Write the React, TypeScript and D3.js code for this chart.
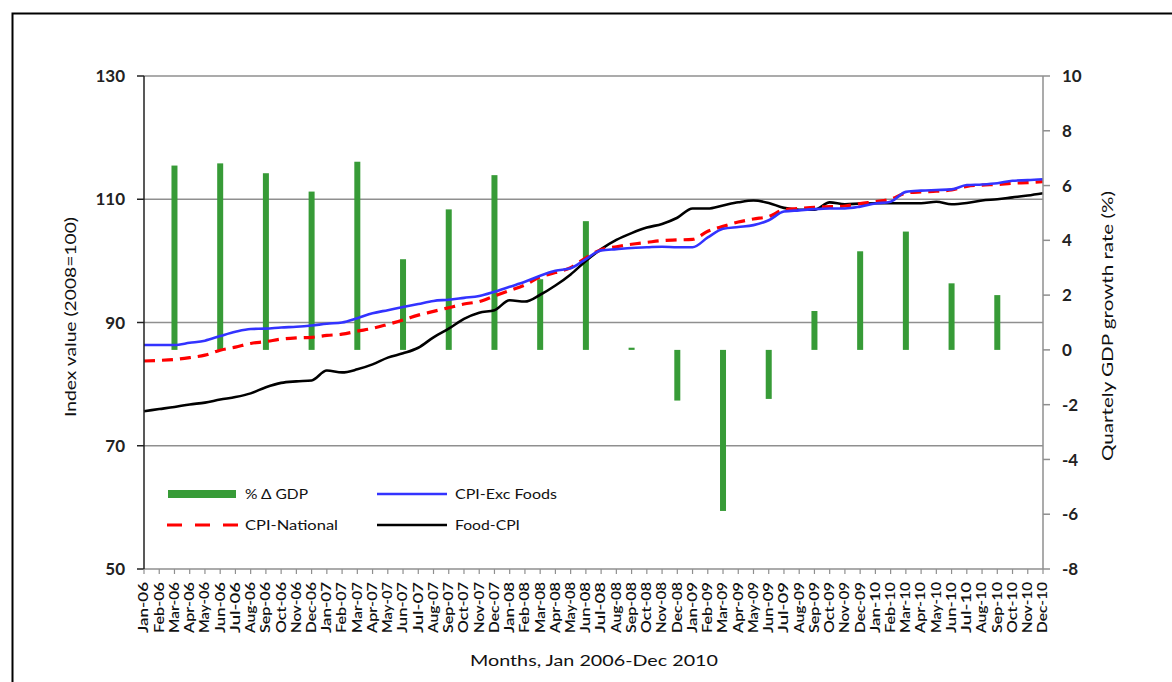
import React from "react";
import * as d3 from "d3";

const monthNames = ["Jan", "Feb", "Mar", "Apr", "May", "Jun", "Jul", "Aug", "Sep", "Oct", "Nov", "Dec"];
const years = ["06", "07", "08", "09", "10"];
const months: string[] = years.flatMap((y) => monthNames.map((m) => `${m}-${y}`));

const cpiExcFoods = [
  86.35, 86.35, 86.35, 86.7, 87.05, 87.8, 88.5, 88.95, 89.0, 89.2, 89.3, 89.5,
  89.8, 90.0, 90.7, 91.5, 92.0, 92.5, 93.0, 93.5, 93.7, 94.0, 94.3, 95.0,
  95.8, 96.6, 97.6, 98.4, 98.8, 100.3, 101.7, 101.9, 102.1, 102.2, 102.3, 102.2,
  102.2, 103.8, 105.2, 105.5, 105.8, 106.6, 108.0, 108.2, 108.4, 108.5, 108.5, 108.8,
  109.3, 109.6, 111.2, 111.4, 111.5, 111.6, 112.3, 112.4, 112.6, 113.0, 113.1, 113.25,
];

const cpiNational = [
  83.75, 83.85, 84.0, 84.3, 84.7, 85.5, 86.0, 86.6, 86.9, 87.3, 87.5, 87.6,
  87.9, 88.1, 88.6, 89.05, 89.7, 90.4, 91.2, 91.8, 92.4, 93.0, 93.4, 94.3,
  95.2, 96.1, 97.4, 98.1, 98.9, 100.5, 101.8, 102.3, 102.7, 103.0, 103.3, 103.4,
  103.5, 104.8, 105.6, 106.3, 106.8, 107.2, 108.3, 108.5, 108.7, 108.8, 108.9, 109.3,
  109.6, 110.0, 111.0, 111.2, 111.3, 111.5, 112.1, 112.3, 112.4, 112.6, 112.7, 112.85,
];

const foodCpi = [
  75.6, 75.95, 76.3, 76.7, 77.0, 77.5, 77.9, 78.5, 79.5, 80.2, 80.45, 80.6,
  82.2, 81.9, 82.4, 83.2, 84.3, 85.0, 85.9, 87.6, 89.0, 90.6, 91.6, 92.0,
  93.6, 93.4, 94.5, 96.0, 97.8, 100.0, 101.9, 103.4, 104.5, 105.4, 106.0, 107.0,
  108.5, 108.5, 109.0, 109.5, 109.8, 109.4, 108.6, 108.3, 108.3, 109.5, 109.2, 109.3,
  109.35, 109.35, 109.35, 109.35, 109.6, 109.2, 109.4, 109.8, 110.0, 110.3, 110.6, 110.97,
];

const gdpMonths = [
  "Mar-06", "Jun-06", "Sep-06", "Dec-06",
  "Mar-07", "Jun-07", "Sep-07", "Dec-07",
  "Mar-08", "Jun-08", "Sep-08", "Dec-08",
  "Mar-09", "Jun-09", "Sep-09", "Dec-09",
  "Mar-10", "Jun-10", "Sep-10",
];
const gdpGrowth = [
  6.73, 6.81, 6.45, 5.78,
  6.87, 3.31, 5.13, 6.38,
  2.58, 4.7, 0.08, -1.85,
  -5.88, -1.79, 1.42, 3.6,
  4.32, 2.43, 2.0,
];

const leftTicks = [50, 70, 90, 110, 130];
const rightTicks = [-8, -6, -4, -2, 0, 2, 4, 6, 8, 10];

const W = 1172;
const H = 682;
const L = 144;
const R = 1043;
const T = 76;
const B = 569;
const FONT = "Lato, 'Open Sans', sans-serif";

export default function App() {
  const x = d3.scalePoint<string>().domain(months).range([L, R]);
  const yL = d3.scaleLinear().domain([50, 130]).range([B, T]);
  const yR = d3.scaleLinear().domain([-8, 10]).range([B, T]);

  const line = (vals: number[]) =>
    d3
      .line<number>()
      .x((_, i) => x(months[i]) as number)
      .y((d) => yL(d))
      .curve(d3.curveMonotoneX)(vals) as string;

  const barW = 6;
  const gridColor = "#8f8f8f";

  return (
    <svg
      width={W}
      height={H}
      style={{ position: "absolute", left: 0, top: 0, background: "#fff" }}
      fontFamily={FONT}
    >
      <rect x={12.5} y={13.5} width={1200} height={700} fill="#fff" stroke="#000" strokeWidth={2} />

      {/* gridlines */}
      {leftTicks.map((t) => (
        <line key={`g${t}`} x1={L} x2={R} y1={yL(t)} y2={yL(t)} stroke={gridColor} strokeWidth={1.5} />
      ))}

      {/* bars */}
      {gdpMonths.map((m, i) => {
        const v = gdpGrowth[i];
        const y0 = yR(0);
        const y1 = yR(v);
        return (
          <rect
            key={m}
            x={(x(m) as number) - barW / 2}
            y={Math.min(y0, y1)}
            width={barW}
            height={Math.max(1, Math.abs(y1 - y0))}
            fill="#379b37"
          />
        );
      })}

      {/* lines */}
      <path d={line(foodCpi)} fill="none" stroke="#000" strokeWidth={2.6} />
      <path d={line(cpiNational)} fill="none" stroke="#ff0000" strokeWidth={3.2} strokeDasharray="11,7" />
      <path d={line(cpiExcFoods)} fill="none" stroke="#3333ff" strokeWidth={2.6} />

      {/* left axis */}
      <line x1={L} x2={L} y1={T} y2={B} stroke="#222" strokeWidth={1.5} />
      {leftTicks.map((t) => (
        <g key={`l${t}`}>
          <line x1={L - 7} x2={L} y1={yL(t)} y2={yL(t)} stroke="#222" strokeWidth={1.5} />
          <text x={125} y={yL(t)} dy="0.36em" textAnchor="end" fontSize={17} fontWeight="bold" fill="#222">
            {t}
          </text>
        </g>
      ))}

      {/* right axis */}
      <line x1={R} x2={R} y1={T} y2={B} stroke={gridColor} strokeWidth={1.5} />
      {rightTicks.map((t) => (
        <g key={`r${t}`}>
          <line x1={R} x2={R + 7} y1={yR(t)} y2={yR(t)} stroke={gridColor} strokeWidth={1.5} />
          <text x={1062} y={yR(t)} dy="0.36em" textAnchor="start" fontSize={17} fontWeight="bold" fill="#222">
            {t}
          </text>
        </g>
      ))}

      {/* x axis */}
      {months.map((m) => (
        <g key={m}>
          <line x1={x(m)} x2={x(m)} y1={B} y2={B + 5} stroke={gridColor} strokeWidth={1.2} />
          <text
            transform={`translate(${x(m)},${B + 13}) rotate(-90)`}
            dy="0.35em"
            textAnchor="end"
            fontSize={12.5}
            fontWeight="600"
            fill="#111"
            textLength={51}
            lengthAdjust="spacingAndGlyphs"
          >
            {m}
          </text>
        </g>
      ))}

      {/* axis titles */}
      <text
        transform={`translate(76,317) rotate(-90)`}
        textAnchor="middle"
        fontSize={15}
        fill="#111"
        textLength={200}
        lengthAdjust="spacingAndGlyphs"
      >
        Index value (2008=100)
      </text>
      <text
        transform={`translate(1113,326) rotate(-90)`}
        textAnchor="middle"
        fontSize={15}
        fill="#111"
        textLength={270}
        lengthAdjust="spacingAndGlyphs"
      >
        Quartely GDP growth rate (%)
      </text>
      <text
        x={594}
        y={666}
        textAnchor="middle"
        fontSize={16}
        fill="#111"
        textLength={248}
        lengthAdjust="spacingAndGlyphs"
      >
        Months, Jan 2006-Dec 2010
      </text>

      {/* legend */}
      <rect x={168} y={490} width={68} height={8} fill="#379b37" />
      <text x={245} y={494} dy="0.35em" fontSize={14} fill="#111" textLength={63} lengthAdjust="spacingAndGlyphs">% Δ GDP</text>
      <line x1={377} x2={447} y1={494} y2={494} stroke="#3333ff" strokeWidth={2.5} />
      <text x={455} y={494} dy="0.35em" fontSize={14} fill="#111" textLength={102} lengthAdjust="spacingAndGlyphs">CPI-Exc Foods</text>
      <line x1={167} x2={238} y1={525} y2={525} stroke="#ff0000" strokeWidth={3} strokeDasharray="15,13" />
      <text x={245} y={525} dy="0.35em" fontSize={14} fill="#111" textLength={93} lengthAdjust="spacingAndGlyphs">CPI-National</text>
      <line x1={377} x2={447} y1={525} y2={525} stroke="#000" strokeWidth={2.5} />
      <text x={455} y={525} dy="0.35em" fontSize={14} fill="#111" textLength={65} lengthAdjust="spacingAndGlyphs">Food-CPI</text>
    </svg>
  );
}
